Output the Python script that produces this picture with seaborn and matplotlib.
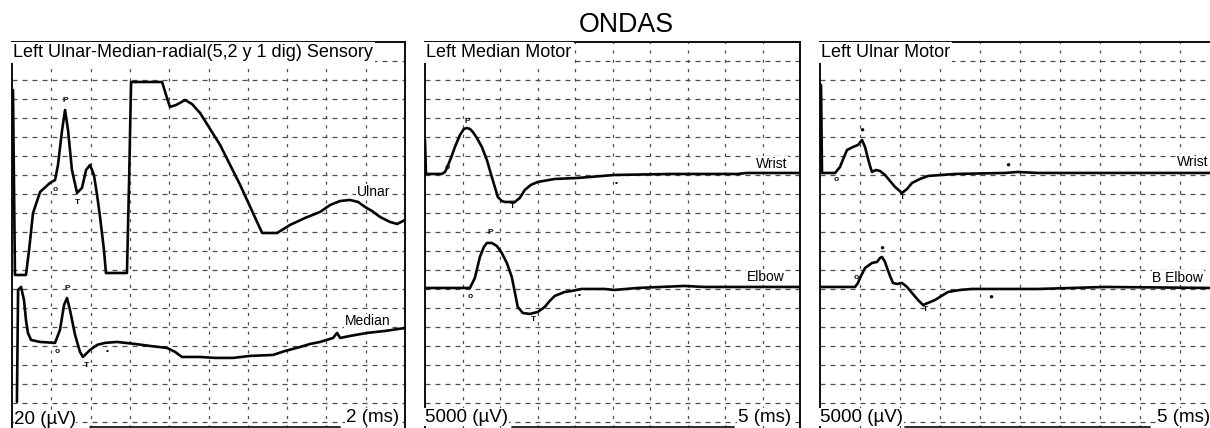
import numpy as np
import pandas as pd
import matplotlib
matplotlib.use("Agg")
import matplotlib.pyplot as plt
import seaborn as sns

# Sensory panel: time (ms) and amplitude (uV, 0 = middle of screen), 2 ms/div, 20 uV/div
ulnar_t = [0.05, 0.15, 0.71, 0.87, 1.07, 1.43, 1.93, 2.19, 2.34, 2.55, 2.70, 2.85, 3.05, 3.31,
           3.56, 3.77, 3.97, 4.17, 4.33, 4.48, 4.68, 4.78, 5.85, 5.96, 6.06, 7.64, 7.84, 8.04,
           8.35, 8.81, 9.16, 9.57, 10.59, 11.61, 12.73, 13.49, 14.15, 14.91, 15.68, 16.19,
           16.70, 17.20, 17.61, 17.97, 18.32, 18.73, 19.24, 19.60, 20.00]
ulnar_v = [149.5, -45.3, -45.3, -18.9, 20.0, 42.1, 51.6, 54.7, 70.5, 107.4, 128.4, 107.4, 65.3,
           41.1, 46.3, 65.3, 70.5, 60.0, 38.9, 15.8, -18.9, -43.2, -43.2, 54.7, 157.9, 157.9,
           144.2, 131.6, 133.7, 138.9, 134.7, 125.3, 91.6, 49.5, -1.1, -1.1, 7.4, 14.7, 21.1,
           28.4, 32.6, 33.7, 31.6, 26.3, 22.1, 15.8, 10.5, 8.4, 12.6]

median_t = [0.25, 0.31, 0.46, 0.61, 0.71, 0.81, 0.97, 1.43, 2.19, 2.44, 2.65, 2.80, 2.95, 3.21,
            3.46, 3.61, 3.97, 4.33, 4.73, 5.34, 6.26, 7.02, 7.89, 8.30, 8.65, 9.57, 10.33,
            11.25, 12.11, 13.28, 13.90, 14.66, 15.17, 15.68, 16.34, 16.54, 16.70, 17.20,
            18.07, 18.99, 20.00]
median_v = [-178.9, -61.1, -57.9, -71.6, -92.6, -106.3, -113.7, -115.8, -116.8, -103.2, -76.8,
            -69.5, -82.1, -108.4, -126.3, -131.6, -124.2, -118.9, -116.8, -115.8, -117.9,
            -120.0, -122.1, -126.3, -131.6, -131.6, -132.6, -132.6, -130.5, -129.5, -125.3,
            -121.1, -117.9, -115.8, -111.6, -106.3, -111.6, -109.5, -106.3, -104.2, -101.1]

# Median motor: 5 ms/div, 5000 uV/div
mwrist_t = [0.0, 0.13, 2.26, 2.66, 2.93, 3.46, 3.99, 4.66, 5.19, 5.59, 5.99, 6.38, 6.92, 7.58,
            8.25, 8.91, 9.71, 10.24, 10.64, 11.97, 12.64, 13.30, 14.10, 15.03, 17.29, 20.35,
            25.27, 32.85, 41.63, 42.96, 49.88]
mwrist_v = [24214, 15266, 15266, 15792, 16845, 19477, 22372, 25530, 27110, 27373, 27110, 26320,
            24741, 22372, 18950, 14476, 9212, 8159, 7896, 7896, 8949, 11054, 12370, 13160,
            13950, 14213, 15002, 15266, 15266, 15529, 15529]

melbow_t = [0.0, 5.99, 6.65, 7.32, 7.85, 8.25, 8.91, 9.58, 10.24, 10.91, 11.57, 12.37, 13.03,
            13.97, 15.03, 15.96, 16.63, 17.29, 18.62, 19.55, 20.88, 23.94, 25.27, 28.33,
            34.58, 37.24, 49.88]
melbow_v = [-14739, -14739, -12107, -6580, -3948, -2895, -2895, -3685, -5527, -8159, -11844,
            -19740, -21319, -21582, -21056, -19740, -18161, -16845, -15792, -15529, -15002,
            -15002, -15266, -14739, -14213, -14476, -14476]

# Ulnar motor: 5 ms/div, 5000 uV/div
uwrist_t = [0.13, 0.25, 1.88, 2.5, 3.0, 3.38, 4.13, 4.75, 5.25, 5.63, 5.88, 6.25, 6.5, 7.0,
            7.5, 8.13, 8.75, 9.38, 10.25, 10.88, 11.5, 12.5, 13.5, 16.88, 23.13, 24.75, 27.25,
            35.0, 48.75]
uwrist_v = [38690, 15529, 15529, 17108, 19740, 21582, 22372, 22898, 24214, 22372, 20266,
            17371, 15792, 16318, 16055, 15002, 13423, 11844, 10265, 11318, 12897, 13950,
            14739, 15266, 15529, 15792, 15529, 15529, 15529]

uelbow_t = [0.0, 4.38, 4.75, 5.0, 5.63, 6.5, 7.13, 7.5, 7.75, 8.13, 8.38, 8.75, 9.13, 9.63,
            10.25, 10.88, 11.5, 12.25, 12.88, 13.5, 14.38, 16.0, 17.5, 19.0, 27.25, 35.63,
            48.75]
uelbow_v = [-14476, -14476, -13423, -12107, -9475, -8159, -7896, -6843, -6580, -7896, -9475,
            -11581, -13423, -13686, -13423, -14476, -16055, -17898, -19214, -18687, -17898,
            -15792, -15266, -15002, -15002, -14476, -14739]

# cursor marks (onset, peak, trough, end)
sens_mark = ["o", "P", "T", "o", "P", "T", "\u25aa"]
sens_mark_t = [2.19, 2.70, 3.31, 2.29, 2.80, 3.77, 4.84]
sens_mark_v = [44.2, 138.9, 30.5, -126.3, -60.0, -141.0, -125.3]

mmot_mark = ["o", "P", "T", "\u25aa", "o", "P", "T", "\u25aa"]
mmot_mark_t = [2.93, 5.59, 11.70, 25.5, 5.99, 8.65, 14.4, 20.6]
mmot_mark_v = [16845, 28952, 6580, 12897, -17108, -263, -23162, -16582]

umot_mark = ["o", "\u25cf", "T", "\u25cf", "o", "\u25cf", "T", "\u25cf"]
umot_mark_t = [2.0, 5.25, 10.25, 23.5, 4.5, 7.75, 13.13, 21.4]
umot_mark_v = [13686, 26846, 8949, 17634, -12107, -4211, -20530, -17108]

panel_titles = ["Left Ulnar-Median-radial(5,2 y 1 dig) Sensory", "Left Median Motor",
                "Left Ulnar Motor"]
trace_names = [["Ulnar", "Median"], ["Wrist", "Elbow"], ["Wrist", "B Elbow"]]
sens_label = ["20 (\u00b5V)", "5000 (\u00b5V)", "5000 (\u00b5V)"]
time_label = ["2 (ms)", "5 (ms)", "5 (ms)"]
ms_div = [2, 5, 5]
uv_div = [20, 5000, 5000]

sns.set_style("white")
plt.rcParams["font.family"] = ["Liberation Sans", "DejaVu Sans"]
plt.rcParams["text.color"] = "black"

W, H = 1210, 428
fig = plt.figure(figsize=(W / 100, H / 100), dpi=100)

def add_panel(left, right, top=42, bottom=428):
    return fig.add_axes([left / W, (H - bottom) / H, (right - left) / W, (bottom - top) / H])

axes = [add_panel(12, 405), add_panel(425, 800), add_panel(820, 1220)]

traces = [
    [(ulnar_t, ulnar_v), (median_t, median_v)],
    [(mwrist_t, mwrist_v), (melbow_t, melbow_v)],
    [(uwrist_t, uwrist_v), (uelbow_t, uelbow_v)],
]
marks = [(sens_mark, sens_mark_t, sens_mark_v), (mmot_mark, mmot_mark_t, mmot_mark_v),
         (umot_mark, umot_mark_t, umot_mark_v)]
# label spots (divisions from left / from centre)
name_pos = [[(9.62, 2.1), (9.62, -4.7)], [(9.66, 3.6), (9.58, -2.35)],
            [(9.7, 3.68), (9.58, -2.4)]]
bar_span = [(0.198, 0.835), (0.232, 0.824), (0.2125, 0.825)]

for i, ax in enumerate(axes):
    dt, dv = ms_div[i], uv_div[i]
    ax.set_xlim(0, 10 * dt)
    ax.set_ylim(-10.32 * dv, 10 * dv)
    ax.set_xticks(np.arange(1, 10) * dt)
    ax.set_yticks(np.arange(-10, 10) * dv)
    ax.tick_params(length=0, labelbottom=False, labelleft=False)
    ax.xaxis.grid(True, color="0.3", lw=0.9, linestyle=(0, (2.5, 5)))
    ax.yaxis.grid(True, color="0.3", lw=0.9, linestyle=(0, (4, 4)))
    for s in ["top", "left", "right"]:
        ax.spines[s].set_color("0.05")
        ax.spines[s].set_linewidth(1.4)
    ax.spines["bottom"].set_visible(False)

    for t, v in traces[i]:
        df = pd.DataFrame({"t": t, "v": v})
        sns.lineplot(data=df, x="t", y="v", sort=False, estimator=None, ax=ax,
                     color="0.02", lw=1.9, zorder=3)
    ax.set_xlabel("")
    ax.set_ylabel("")

    lab, mt, mv = marks[i]
    for s, t, v in zip(lab, mt, mv):
        ax.text(t, v, s, fontsize=6, ha="center", va="center", color="0.05",
                fontweight="bold", zorder=4)

    for name, (xd, yd) in zip(trace_names[i], name_pos[i]):
        ax.text(xd * dt, yd * dv, name, fontsize=10, ha="right", va="center", zorder=4,
                bbox=dict(facecolor="white", edgecolor="none", pad=0.5))

    ax.text(0.003, 0.972, panel_titles[i], transform=ax.transAxes, fontsize=13,
            ha="left", va="center", zorder=5,
            bbox=dict(facecolor="white", edgecolor="none", pad=1.5))

    if i == 0:
        ax.text(0.005, 0.0, sens_label[i], transform=ax.transAxes, fontsize=13.5,
                ha="left", va="bottom", zorder=5,
                bbox=dict(facecolor="white", edgecolor="none", pad=0.0))
    else:
        ax.text(0.0, 0.028, sens_label[i], transform=ax.transAxes, fontsize=13.5,
                ha="left", va="center", zorder=5,
                bbox=dict(facecolor="white", edgecolor="none", pad=0.5))
    ax.text(0.985 if i == 0 else 0.975, 0.028, time_label[i], transform=ax.transAxes,
            fontsize=13.5, ha="right", va="center", zorder=5,
            bbox=dict(facecolor="white", edgecolor="none", pad=0.5))
    x0, x1 = bar_span[i]
    ax.plot([x0, x1], [0.003, 0.003], transform=ax.transAxes, color="0.1", lw=1.3,
            clip_on=False, zorder=5)

fig.text(626 / W, 0.9416, "ONDAS", fontsize=19.3, ha="center", va="center")

fig.savefig("out.png", dpi=100)
